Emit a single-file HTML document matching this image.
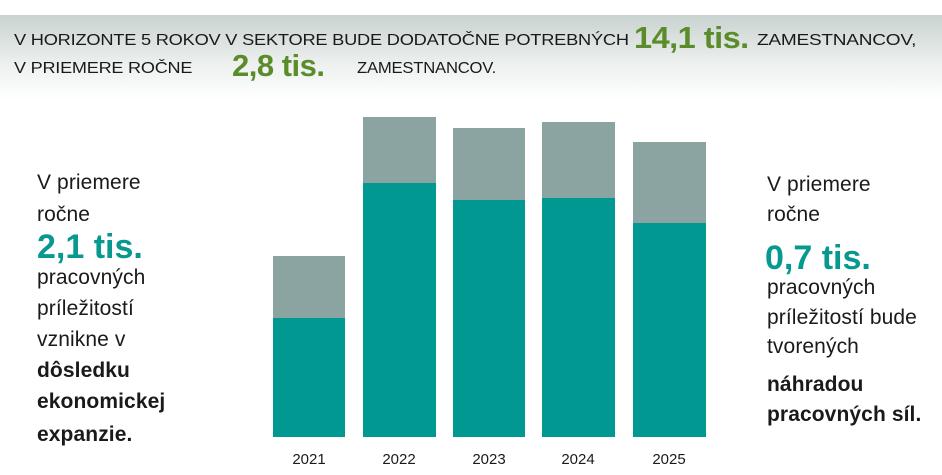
<!DOCTYPE html>
<html><head><meta charset="utf-8"><style>
body{margin:0;width:942px;height:475px;background:#fff;position:relative;overflow:hidden;font-family:"Liberation Sans",sans-serif;color:#1a1a1a}
.hdr{position:absolute;left:0;top:15px;width:942px;height:85px;background:linear-gradient(#c9d3d0,#eef1f0 60%,#fff)}
.t{position:absolute;white-space:nowrap;transform-origin:0 50%}
.h{font-size:16px;letter-spacing:-0.2px}
.g{color:#5b8c2c;font-size:31px;font-weight:bold;letter-spacing:-0.5px}
.s{font-size:21px;line-height:24px;letter-spacing:0.1px}
.b{font-weight:bold}
.big{color:#07998f;font-size:34px;font-weight:bold;line-height:36px}
.bar{position:absolute}
.yr{position:absolute;top:451px;font-size:15px;width:80px;text-align:center}
</style></head><body>
<div class="hdr"></div>
<div class="t h" style="left:14px;top:32px;transform:scaleX(1.14)">V HORIZONTE 5 ROKOV V SEKTORE BUDE DODATOČNE POTREBNÝCH</div>
<div class="t g" style="left:634px;top:20px;transform:scaleX(1.05)">14,1 tis.</div>
<div class="t h" style="left:757px;top:32px;transform:scaleX(1.19)">ZAMESTNANCOV,</div>
<div class="t h" style="left:14px;top:60px;transform:scaleX(1.13)">V PRIEMERE ROČNE</div>
<div class="t g" style="left:232px;top:48px;transform:scaleX(1.0)">2,8 tis.</div>
<div class="t h" style="left:357px;top:60px;transform:scaleX(1.04)">ZAMESTNANCOV.</div>

<div class="t s" style="left:37px;top:171px">V priemere</div>
<div class="t s" style="left:37px;top:203px">ročne</div>
<div class="t big" style="left:37px;top:229px">2,1 tis.</div>
<div class="t s" style="left:37px;top:266px">pracovných</div>
<div class="t s" style="left:37px;top:297px">príležitostí</div>
<div class="t s" style="left:37px;top:328px">vznikne v</div>
<div class="t s b" style="left:37px;top:359px">dôsledku</div>
<div class="t s b" style="left:37px;top:390px">ekonomickej</div>
<div class="t s b" style="left:37px;top:423px">expanzie.</div>

<div class="t s" style="left:767px;top:173px">V priemere</div>
<div class="t s" style="left:767px;top:203px">ročne</div>
<div class="t big" style="left:765px;top:240px">0,7 tis.</div>
<div class="t s" style="left:767px;top:276px">pracovných</div>
<div class="t s" style="left:767px;top:306px">príležitostí bude</div>
<div class="t s" style="left:767px;top:335px">tvorených</div>
<div class="t s b" style="left:767px;top:373px">náhradou</div>
<div class="t s b" style="left:767px;top:403px">pracovných síl.</div>

<div class="bar" style="left:273px;top:256px;width:72px;height:62px;background:#8ba4a2"></div>
<div class="bar" style="left:273px;top:318px;width:72px;height:119px;background:#009890"></div>
<div class="bar" style="left:363px;top:117px;width:73px;height:66px;background:#8ba4a2"></div>
<div class="bar" style="left:363px;top:183px;width:73px;height:254px;background:#009890"></div>
<div class="bar" style="left:453px;top:128px;width:72px;height:72px;background:#8ba4a2"></div>
<div class="bar" style="left:453px;top:200px;width:72px;height:237px;background:#009890"></div>
<div class="bar" style="left:542px;top:122px;width:73px;height:76px;background:#8ba4a2"></div>
<div class="bar" style="left:542px;top:198px;width:73px;height:239px;background:#009890"></div>
<div class="bar" style="left:633px;top:142px;width:73px;height:81px;background:#8ba4a2"></div>
<div class="bar" style="left:633px;top:223px;width:73px;height:214px;background:#009890"></div>

<div class="yr" style="left:269px">2021</div>
<div class="yr" style="left:359px">2022</div>
<div class="yr" style="left:449px">2023</div>
<div class="yr" style="left:538px">2024</div>
<div class="yr" style="left:629px">2025</div>
</body></html>
